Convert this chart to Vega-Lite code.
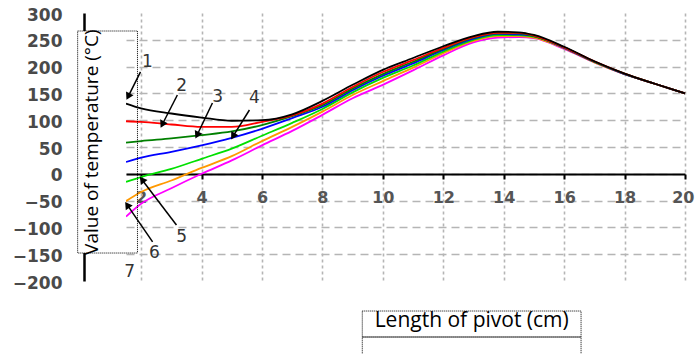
{
  "$schema": "https://vega.github.io/schema/vega-lite/v6.json",
  "width": 559,
  "height": 268,
  "autosize": {"type": "none"},
  "padding": {"left": 126, "top": 13, "right": 11, "bottom": 73},
  "background": "white",
  "config": {
    "view": {"stroke": null}
  },
  "datasets": {
    "curves": [
      {"s": "7", "x": 1.5, "y": -80}, {"s": "7", "x": 2, "y": -56}, {"s": "7", "x": 3, "y": -27}, {"s": "7", "x": 4, "y": 0}, {"s": "7", "x": 5, "y": 25}, {"s": "7", "x": 6, "y": 53}, {"s": "7", "x": 7, "y": 80}, {"s": "7", "x": 8, "y": 110}, {"s": "7", "x": 9, "y": 141}, {"s": "7", "x": 10, "y": 166}, {"s": "7", "x": 11, "y": 193}, {"s": "7", "x": 12, "y": 221}, {"s": "7", "x": 13, "y": 245}, {"s": "7", "x": 13.8, "y": 254}, {"s": "7", "x": 14.5, "y": 255}, {"s": "7", "x": 15, "y": 253}, {"s": "7", "x": 16, "y": 233}, {"s": "7", "x": 17, "y": 208}, {"s": "7", "x": 18, "y": 186}, {"s": "7", "x": 19, "y": 168}, {"s": "7", "x": 20, "y": 150},
      {"s": "6", "x": 1.5, "y": -51}, {"s": "6", "x": 2, "y": -34}, {"s": "6", "x": 3, "y": -12.5}, {"s": "6", "x": 4, "y": 11}, {"s": "6", "x": 5, "y": 33}, {"s": "6", "x": 6, "y": 61}, {"s": "6", "x": 7, "y": 87.5}, {"s": "6", "x": 8, "y": 116}, {"s": "6", "x": 9, "y": 147}, {"s": "6", "x": 10, "y": 173}, {"s": "6", "x": 11, "y": 198}, {"s": "6", "x": 12, "y": 225}, {"s": "6", "x": 13, "y": 248}, {"s": "6", "x": 13.8, "y": 257}, {"s": "6", "x": 14.5, "y": 257}, {"s": "6", "x": 15, "y": 254}, {"s": "6", "x": 16, "y": 234}, {"s": "6", "x": 17, "y": 208}, {"s": "6", "x": 18, "y": 186}, {"s": "6", "x": 19, "y": 168}, {"s": "6", "x": 20, "y": 150},
      {"s": "5", "x": 1.5, "y": -15}, {"s": "5", "x": 2, "y": -6}, {"s": "5", "x": 3, "y": 9}, {"s": "5", "x": 4, "y": 28}, {"s": "5", "x": 5, "y": 47}, {"s": "5", "x": 6, "y": 71}, {"s": "5", "x": 7, "y": 95}, {"s": "5", "x": 8, "y": 121}, {"s": "5", "x": 9, "y": 152}, {"s": "5", "x": 10, "y": 179}, {"s": "5", "x": 11, "y": 202}, {"s": "5", "x": 12, "y": 228}, {"s": "5", "x": 13, "y": 250}, {"s": "5", "x": 13.8, "y": 259}, {"s": "5", "x": 14.5, "y": 259}, {"s": "5", "x": 15, "y": 256}, {"s": "5", "x": 16, "y": 235}, {"s": "5", "x": 17, "y": 209}, {"s": "5", "x": 18, "y": 186}, {"s": "5", "x": 19, "y": 168}, {"s": "5", "x": 20, "y": 150},
      {"s": "4", "x": 1.5, "y": 22}, {"s": "4", "x": 2, "y": 30}, {"s": "4", "x": 3, "y": 41}, {"s": "4", "x": 4, "y": 53}, {"s": "4", "x": 5, "y": 67}, {"s": "4", "x": 6, "y": 84}, {"s": "4", "x": 7, "y": 104}, {"s": "4", "x": 8, "y": 125}, {"s": "4", "x": 9, "y": 156}, {"s": "4", "x": 10, "y": 183}, {"s": "4", "x": 11, "y": 206}, {"s": "4", "x": 12, "y": 231}, {"s": "4", "x": 13, "y": 252}, {"s": "4", "x": 13.8, "y": 261}, {"s": "4", "x": 14.5, "y": 260}, {"s": "4", "x": 15, "y": 257}, {"s": "4", "x": 16, "y": 235}, {"s": "4", "x": 17, "y": 209}, {"s": "4", "x": 18, "y": 186}, {"s": "4", "x": 19, "y": 168}, {"s": "4", "x": 20, "y": 150},
      {"s": "3", "x": 1.5, "y": 58}, {"s": "3", "x": 2, "y": 61}, {"s": "3", "x": 3, "y": 66}, {"s": "3", "x": 4, "y": 72}, {"s": "3", "x": 5, "y": 79}, {"s": "3", "x": 6, "y": 91}, {"s": "3", "x": 7, "y": 107.5}, {"s": "3", "x": 8, "y": 128}, {"s": "3", "x": 9, "y": 159}, {"s": "3", "x": 10, "y": 186}, {"s": "3", "x": 11, "y": 209}, {"s": "3", "x": 12, "y": 233}, {"s": "3", "x": 13, "y": 254}, {"s": "3", "x": 13.8, "y": 262}, {"s": "3", "x": 14.5, "y": 262}, {"s": "3", "x": 15, "y": 257}, {"s": "3", "x": 16, "y": 236}, {"s": "3", "x": 17, "y": 209}, {"s": "3", "x": 18, "y": 187}, {"s": "3", "x": 19, "y": 168}, {"s": "3", "x": 20, "y": 150},
      {"s": "2", "x": 1.5, "y": 98}, {"s": "2", "x": 2, "y": 97}, {"s": "2", "x": 3, "y": 92}, {"s": "2", "x": 4, "y": 87.5}, {"s": "2", "x": 5, "y": 87.5}, {"s": "2", "x": 6, "y": 97}, {"s": "2", "x": 7, "y": 109}, {"s": "2", "x": 8, "y": 131}, {"s": "2", "x": 9, "y": 162}, {"s": "2", "x": 10, "y": 190}, {"s": "2", "x": 11, "y": 212}, {"s": "2", "x": 12, "y": 235}, {"s": "2", "x": 13, "y": 255}, {"s": "2", "x": 13.8, "y": 263}, {"s": "2", "x": 14.5, "y": 263}, {"s": "2", "x": 15, "y": 258}, {"s": "2", "x": 16, "y": 236}, {"s": "2", "x": 17, "y": 210}, {"s": "2", "x": 18, "y": 187}, {"s": "2", "x": 19, "y": 168}, {"s": "2", "x": 20, "y": 150},
      {"s": "1", "x": 1.5, "y": 131}, {"s": "1", "x": 2, "y": 122}, {"s": "1", "x": 3, "y": 112.5}, {"s": "1", "x": 4, "y": 105}, {"s": "1", "x": 5, "y": 99}, {"s": "1", "x": 6, "y": 100}, {"s": "1", "x": 7, "y": 111}, {"s": "1", "x": 8, "y": 136}, {"s": "1", "x": 9, "y": 166}, {"s": "1", "x": 10, "y": 194}, {"s": "1", "x": 11, "y": 216}, {"s": "1", "x": 12, "y": 238}, {"s": "1", "x": 13, "y": 257}, {"s": "1", "x": 13.8, "y": 265}, {"s": "1", "x": 14.5, "y": 264}, {"s": "1", "x": 15, "y": 259}, {"s": "1", "x": 16, "y": 237}, {"s": "1", "x": 17, "y": 210}, {"s": "1", "x": 18, "y": 187}, {"s": "1", "x": 19, "y": 168}, {"s": "1", "x": 20, "y": 150}
    ],
    "notes": [
      {"n": "1", "lx": 2.21, "ly": 208.6, "tx": 1.98, "ty": 190, "hx": 1.57, "hy": 144, "a": -153},
      {"n": "2", "lx": 3.34, "ly": 163.8, "tx": 3.2, "ty": 147, "hx": 2.7, "hy": 92, "a": -153},
      {"n": "3", "lx": 4.53, "ly": 143.3, "tx": 4.36, "ty": 132, "hx": 3.85, "hy": 72, "a": -154},
      {"n": "4", "lx": 5.75, "ly": 141.4, "tx": 5.585, "ty": 119, "hx": 5.04, "hy": 70, "a": -149},
      {"n": "5", "lx": 3.34, "ly": -117.9, "tx": 3.17, "ty": -95.5, "hx": 2.03, "hy": -11, "a": -37},
      {"n": "6", "lx": 2.44, "ly": -147.8, "tx": 2.38, "ty": -127, "hx": 1.54, "hy": -58, "a": -34},
      {"n": "7", "lx": 1.62, "ly": -183.2}
    ]
  },
  "layer": [
    {
      "data": {"name": "curves"},
      "mark": {"type": "line", "strokeWidth": 1.8, "interpolate": "monotone"},
      "encoding": {
        "x": {
          "field": "x", "type": "quantitative", "title": null,
          "scale": {"domain": [1.5, 20], "nice": false, "zero": false},
          "axis": {
            "values": [2, 4, 6, 8, 10, 12, 14, 16, 18, 20],
            "tickCount": 30,
            "format": "d",
            "offset": -107,
            "domainColor": "#000000", "domainWidth": 2,
            "tickColor": "#000000", "tickWidth": 2, "tickSize": 5,
            "labelPadding": 10, "labelFont": "DejaVu Sans", "labelFontSize": 16, "labelFontWeight": "bold",
            "labelColor": "#555555", "labelFlush": true, "labelFlushOffset": 9, "labelOverlap": false,
            "grid": true, "gridColor": "#b5b5b5", "gridWidth": 1.6, "gridDash": [3, 3]
          }
        },
        "y": {
          "field": "y", "type": "quantitative", "title": null,
          "scale": {"domain": [-200, 300], "nice": false, "zero": false},
          "axis": {
            "values": [-200, -150, -100, -50, 0, 50, 100, 150, 200, 250, 300],
            "tickCount": 30,
            "format": "d",
            "offset": 42,
            "domainColor": "#000000", "domainWidth": 2.5,
            "ticks": false, "tickSize": 0,
            "labelPadding": 22, "labelOffset": 2,
            "labelFont": "DejaVu Sans", "labelFontSize": 17, "labelFontWeight": "bold",
            "labelColor": "#4a4a4a", "labelOverlap": false,
            "grid": true, "gridColor": "#b5b5b5", "gridWidth": 1.6, "gridDash": [8, 5],
            "gridOpacity": {"condition": {"test": "datum.value === 300 || datum.value === -200", "value": 0}, "value": 1}
          }
        },
        "color": {"field": "s", "type": "nominal", "legend": null, "scale": {"domain": ["1", "2", "3", "4", "5", "6", "7"], "range": ["#000000", "#ff0000", "#008000", "#0000ff", "#00e000", "#ff9900", "#ff00ff"]}},
        "order": {"field": "x", "type": "quantitative"}
      }
    },
    {
      "data": {"values": [{}]},
      "mark": {"type": "rect", "fill": "white", "strokeWidth": 0},
      "encoding": {
        "x": {"datum": -0.1, "type": "quantitative"},
        "x2": {"datum": 1.5},
        "y": {"datum": 266.4, "type": "quantitative"},
        "y2": {"datum": -147.8}
      }
    },
    {
      "data": {"values": [{}]},
      "mark": {"type": "rect", "fill": null, "fillOpacity": 0, "stroke": "#000000", "strokeWidth": 1, "strokeDash": [1, 1]},
      "encoding": {
        "x": {"datum": -0.1, "type": "quantitative"},
        "x2": {"datum": 1.88},
        "y": {"datum": 266.4, "type": "quantitative"},
        "y2": {"datum": -147.8}
      }
    },
    {
      "data": {"values": [{"t": "Value of temperature (°C)"}]},
      "mark": {"type": "text", "angle": 270, "font": "Open Sans", "fontSize": 19, "color": "#000000", "align": "center", "baseline": "middle"},
      "encoding": {
        "x": {"datum": 0.39, "type": "quantitative"},
        "y": {"datum": 59, "type": "quantitative"},
        "text": {"field": "t"}
      }
    },
    {
      "data": {"values": [{}]},
      "mark": {"type": "rect", "fill": null, "fillOpacity": 0, "stroke": "#000000", "strokeWidth": 1, "strokeDash": [1, 1]},
      "encoding": {
        "x": {"datum": 9.32, "type": "quantitative"},
        "x2": {"datum": 16.56},
        "y": {"datum": -256, "type": "quantitative"},
        "y2": {"datum": -304.5}
      }
    },
    {
      "data": {"values": [{}]},
      "mark": {"type": "rect", "fill": null, "fillOpacity": 0, "stroke": "#000000", "strokeWidth": 1, "strokeDash": [1, 1]},
      "encoding": {
        "x": {"datum": 9.32, "type": "quantitative"},
        "x2": {"datum": 16.56},
        "y": {"datum": -304.5, "type": "quantitative"},
        "y2": {"datum": -350}
      }
    },
    {
      "data": {"values": [{"t": "Length of pivot (cm)"}]},
      "mark": {"type": "text", "font": "Open Sans", "fontSize": 21, "color": "#000000", "align": "center", "baseline": "alphabetic"},
      "encoding": {
        "x": {"datum": 12.94, "type": "quantitative"},
        "y": {"datum": -285.8, "type": "quantitative"},
        "text": {"field": "t"}
      }
    },
    {
      "data": {"name": "notes"},
      "transform": [{"filter": "isValid(datum.tx)"}],
      "mark": {"type": "rule", "color": "#000000", "strokeWidth": 1.5},
      "encoding": {
        "x": {"field": "tx", "type": "quantitative"},
        "y": {"field": "ty", "type": "quantitative"},
        "x2": {"field": "hx"},
        "y2": {"field": "hy"}
      }
    },
    {
      "data": {"name": "notes"},
      "transform": [{"filter": "isValid(datum.tx)"}],
      "mark": {"type": "point", "shape": "triangle-up", "filled": true, "color": "#000000", "size": 70, "opacity": 1},
      "encoding": {
        "x": {"field": "hx", "type": "quantitative"},
        "y": {"field": "hy", "type": "quantitative"},
        "angle": {"field": "a", "type": "quantitative", "scale": null}
      }
    },
    {
      "data": {"name": "notes"},
      "mark": {"type": "text", "font": "DejaVu Sans", "fontSize": 17, "color": "#333333", "align": "center", "baseline": "middle"},
      "encoding": {
        "x": {"field": "lx", "type": "quantitative"},
        "y": {"field": "ly", "type": "quantitative"},
        "text": {"field": "n"}
      }
    }
  ]
}
